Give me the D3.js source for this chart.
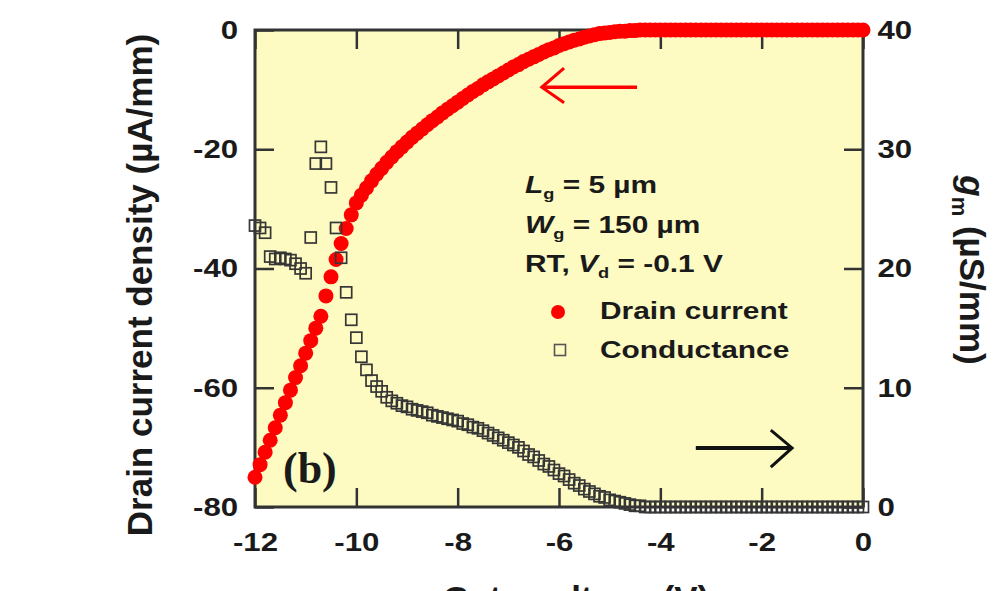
<!DOCTYPE html>
<html>
<head>
<meta charset="utf-8">
<script src="https://cdn.jsdelivr.net/npm/d3@7"></script>
<style>
  body { margin: 0; background: #fff; }
  svg { display: block; }
</style>
</head>
<body>
<script>
// gate voltage sweep (V), one reading every 0.1 V
const gateV = [
  -12.0, -11.9, -11.8, -11.7, -11.6, -11.5, -11.4, -11.3, -11.2, -11.1,
  -11.0, -10.9, -10.8, -10.7, -10.6, -10.5, -10.4, -10.3, -10.2, -10.1,
  -10.0, -9.9, -9.8, -9.7, -9.6, -9.5, -9.4, -9.3, -9.2, -9.1,
  -9.0, -8.9, -8.8, -8.7, -8.6, -8.5, -8.4, -8.3, -8.2, -8.1,
  -8.0, -7.9, -7.8, -7.7, -7.6, -7.5, -7.4, -7.3, -7.2, -7.1,
  -7.0, -6.9, -6.8, -6.7, -6.6, -6.5, -6.4, -6.3, -6.2, -6.1,
  -6.0, -5.9, -5.8, -5.7, -5.6, -5.5, -5.4, -5.3, -5.2, -5.1,
  -5.0, -4.9, -4.8, -4.7, -4.6, -4.5, -4.4, -4.3, -4.2, -4.1,
  -4.0, -3.9, -3.8, -3.7, -3.6, -3.5, -3.4, -3.3, -3.2, -3.1,
  -3.0, -2.9, -2.8, -2.7, -2.6, -2.5, -2.4, -2.3, -2.2, -2.1,
  -2.0, -1.9, -1.8, -1.7, -1.6, -1.5, -1.4, -1.3, -1.2, -1.1,
  -1.0, -0.9, -0.8, -0.7, -0.6, -0.5, -0.4, -0.3, -0.2, -0.1,
  0.0
];

// drain current density (uA/mm), left axis
const drainI = [
  -75.0, -72.9, -70.8, -68.8, -66.7, -64.6, -62.5, -60.4, -58.3, -56.3,
  -54.2, -52.1, -50.0, -48.0, -44.6, -41.4, -38.5, -35.8, -33.3, -31.0,
  -29.0, -27.7, -26.5, -25.3, -24.2, -23.2, -22.2, -21.3, -20.4, -19.6,
  -18.8, -18.0, -17.3, -16.6, -15.9, -15.2, -14.6, -13.9, -13.3, -12.7,
  -12.1, -11.5, -10.9, -10.3, -9.8, -9.2, -8.7, -8.2, -7.7, -7.2,
  -6.7, -6.2, -5.8, -5.3, -4.9, -4.5, -4.1, -3.7, -3.3, -3.0,
  -2.6, -2.3, -2.0, -1.7, -1.5, -1.2, -1.0, -0.8, -0.6, -0.5,
  -0.4, -0.3, -0.2, -0.2, -0.1, -0.1, 0, 0, 0, 0,
  0, 0, 0, 0, 0, 0, 0, 0, 0, 0,
  0, 0, 0, 0, 0, 0, 0, 0, 0, 0,
  0, 0, 0, 0, 0, 0, 0, 0, 0, 0,
  0, 0, 0, 0, 0, 0, 0, 0, 0, 0,
  0
];

// conductance gm (uS/mm), right axis
const gm = [
  23.6, 23.4, 23.0, 21.0, 20.8, 20.9, 20.8, 20.7, 20.4, 20.0,
  19.6, 22.6, 28.8, 30.2, 28.8, 26.8, 23.4, 20.9, 18.0, 15.7,
  14.2, 12.6, 11.5, 10.6, 10.1, 9.7, 9.2, 8.9, 8.7, 8.5,
  8.4, 8.2, 8.1, 8.0, 7.9, 7.7, 7.6, 7.5, 7.4, 7.3,
  7.2, 7.0, 6.9, 6.7, 6.6, 6.4, 6.2, 6.0, 5.8, 5.6,
  5.4, 5.2, 5.0, 4.7, 4.4, 4.2, 3.9, 3.6, 3.4, 3.1,
  2.8, 2.6, 2.3, 2.0, 1.8, 1.5, 1.3, 1.1, 0.9, 0.8,
  0.6, 0.5, 0.4, 0.3, 0.2, 0.1, 0.1, 0, 0, 0,
  0, 0, 0, 0, 0, 0, 0, 0, 0, 0,
  0, 0, 0, 0, 0, 0, 0, 0, 0, 0,
  0, 0, 0, 0, 0, 0, 0, 0, 0, 0,
  0, 0, 0, 0, 0, 0, 0, 0, 0, 0,
  0
];

const xTicks = [-12, -10, -8, -6, -4, -2, 0];
const leftTicks = [-80, -60, -40, -20, 0];
const rightTicks = [0, 10, 20, 30, 40];

const W = 1004, H = 591;
const plot = { left: 255, top: 30, right: 863, bottom: 507 };
const sans = "'Liberation Sans', Arial, Helvetica, sans-serif";
const ink = "#1a1a1a";
const tickLen = 19;

const svg = d3.select("body").append("svg")
  .attr("width", W)
  .attr("height", H);

const x = d3.scaleLinear().domain([-12, 0]).range([plot.left, plot.right]);
const yL = d3.scaleLinear().domain([-80, 0]).range([plot.bottom, plot.top]);
const yR = d3.scaleLinear().domain([0, 40]).range([plot.bottom, plot.top]);

// plot area
svg.append("rect")
  .attr("x", plot.left)
  .attr("y", plot.top)
  .attr("width", plot.right - plot.left)
  .attr("height", plot.bottom - plot.top)
  .attr("fill", "#fdfbc2")
  .attr("stroke", "#333")
  .attr("stroke-width", 3);

const styleAxis = (g) => {
  g.select(".domain").remove();
  g.selectAll(".tick line").attr("stroke", "#333").attr("stroke-width", 2.5);
  g.selectAll(".tick text")
    .attr("font-family", sans)
    .attr("font-weight", "bold")
    .attr("font-size", 26)
    .attr("fill", ink)
    .attr("transform", "scale(1.2,1)");
};

svg.append("g")
  .attr("transform", `translate(${plot.left},0)`)
  .call(d3.axisLeft(yL).tickValues(leftTicks).tickSize(-tickLen).tickPadding(14).tickFormat(d => String(d)))
  .call(styleAxis);

svg.append("g")
  .attr("transform", `translate(${plot.right},0)`)
  .call(d3.axisRight(yR).tickValues(rightTicks).tickSize(-tickLen).tickPadding(12).tickFormat(d => String(d)))
  .call(styleAxis);

svg.append("g")
  .attr("transform", `translate(0,${plot.bottom})`)
  .call(d3.axisBottom(x).tickValues(xTicks).tickSize(-tickLen).tickPadding(26).tickFormat(d => String(d)))
  .call(styleAxis);

svg.append("g")
  .attr("transform", `translate(0,${plot.top})`)
  .call(d3.axisTop(x).tickValues(xTicks).tickSize(-tickLen).tickFormat(""))
  .call(styleAxis);

// data
const pts = gateV.map((v, i) => ({ v: v, id: drainI[i], g: gm[i] }));

svg.append("g")
  .selectAll("circle")
  .data(pts)
  .join("circle")
  .attr("cx", d => x(d.v))
  .attr("cy", d => yL(d.id))
  .attr("r", 7.5)
  .attr("fill", "#ff0000");

svg.append("g")
  .selectAll("rect")
  .data(pts)
  .join("rect")
  .attr("x", d => x(d.v) - 5.5)
  .attr("y", d => yR(d.g) - 5.5)
  .attr("width", 11)
  .attr("height", 11)
  .attr("fill", "none")
  .attr("stroke", "#363636")
  .attr("stroke-width", 1.7);

// arrows pointing to each series' axis
const arrow = d3.line();
const redArrow = [[-4.46, -9.6], [-6.34, -9.6]];
const redHead = [[-5.9, -6.4], [-6.34, -9.6], [-5.9, -12.2]];
svg.append("path")
  .attr("d", arrow(redArrow.map(p => [x(p[0]), yL(p[1])])))
  .attr("stroke", "#f00").attr("stroke-width", 3.5).attr("fill", "none");
svg.append("path")
  .attr("d", arrow(redHead.map(p => [x(p[0]), yL(p[1])])))
  .attr("stroke", "#f00").attr("stroke-width", 3).attr("fill", "none");

const blackArrow = [[-3.3, 4.95], [-1.4, 4.95]];
const blackHead = [[-1.82, 6.45], [-1.4, 4.95], [-1.82, 3.35]];
svg.append("path")
  .attr("d", arrow(blackArrow.map(p => [x(p[0]), yR(p[1])])))
  .attr("stroke", "#111").attr("stroke-width", 4).attr("fill", "none");
svg.append("path")
  .attr("d", arrow(blackHead.map(p => [x(p[0]), yR(p[1])])))
  .attr("stroke", "#111").attr("stroke-width", 3).attr("fill", "none");

// legend block
const note = (x0, y0) => svg.append("text")
  .attr("transform", `translate(${x0},${y0}) scale(1.3,1)`)
  .attr("font-family", sans)
  .attr("font-weight", "bold")
  .attr("font-size", 23)
  .attr("fill", ink);

let t = note(525, 193);
t.append("tspan").attr("font-style", "italic").text("L");
t.append("tspan").attr("font-size", 14).attr("dy", 6).text("g");
t.append("tspan").attr("dy", -6).text(" = 5 µm");

t = note(525, 233);
t.append("tspan").attr("font-style", "italic").text("W");
t.append("tspan").attr("font-size", 14).attr("dy", 6).text("g");
t.append("tspan").attr("dy", -6).text(" = 150 µm");

t = note(525, 272);
t.append("tspan").text("RT, ");
t.append("tspan").attr("font-style", "italic").text("V");
t.append("tspan").attr("font-size", 14).attr("dy", 6).text("d");
t.append("tspan").attr("dy", -6).text(" = -0.1 V");

svg.append("circle").attr("cx", 558).attr("cy", 312).attr("r", 7).attr("fill", "#ff0000");
note(600, 319).text("Drain current");
svg.append("rect").attr("x", 554.5).attr("y", 344.5).attr("width", 11).attr("height", 11)
  .attr("fill", "none").attr("stroke", "#555").attr("stroke-width", 1.6);
note(600, 358).text("Conductance");

svg.append("text")
  .attr("x", 283).attr("y", 483)
  .attr("font-family", "'Liberation Serif', 'Times New Roman', serif")
  .attr("font-weight", "bold")
  .attr("font-size", 44)
  .attr("fill", ink)
  .text("(b)");

// axis titles
svg.append("text")
  .attr("transform", "translate(152,285) rotate(-90)")
  .attr("text-anchor", "middle")
  .attr("font-family", sans)
  .attr("font-weight", "bold")
  .attr("font-size", 35)
  .attr("fill", ink)
  .text("Drain current density (µA/mm)");

const rt = svg.append("text")
  .attr("transform", "translate(960,270) rotate(90)")
  .attr("text-anchor", "middle")
  .attr("font-family", sans)
  .attr("font-weight", "bold")
  .attr("font-size", 35)
  .attr("fill", ink);
rt.append("tspan").attr("font-style", "italic").text("g");
rt.append("tspan").attr("font-size", 22).attr("dy", 8).text("m");
rt.append("tspan").attr("dy", -8).text(" (µS/mm)");

// the source image crops this title at its bottom edge
svg.append("text")
  .attr("x", 576).attr("y", 611)
  .attr("text-anchor", "middle")
  .attr("font-family", sans)
  .attr("font-weight", "bold")
  .attr("font-size", 35)
  .attr("fill", ink)
  .text("Gate voltage (V)");
</script>
</body>
</html>
